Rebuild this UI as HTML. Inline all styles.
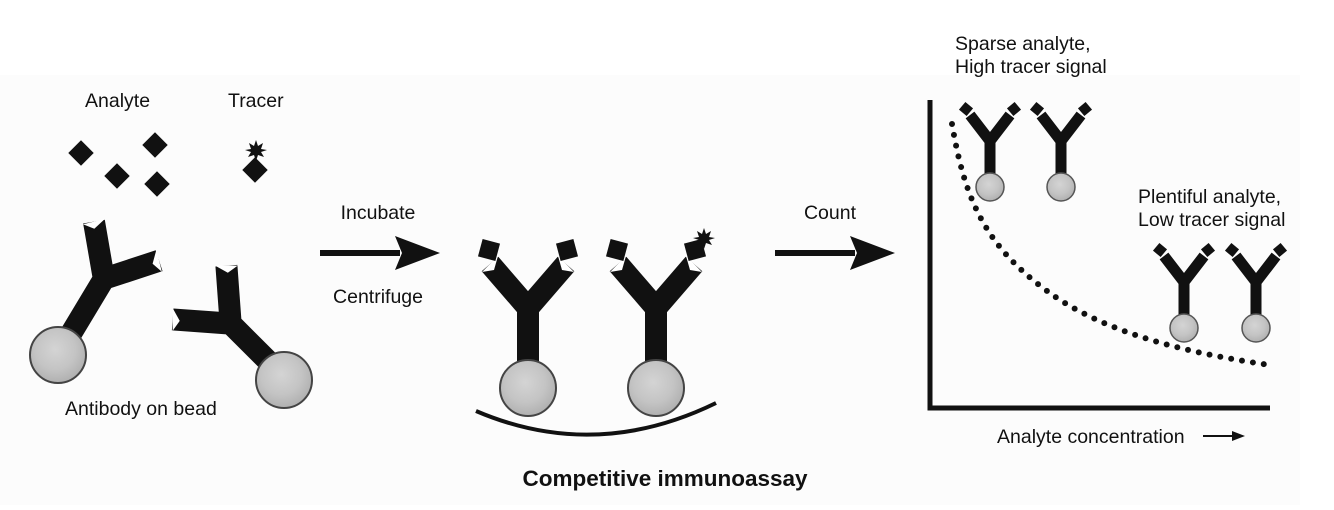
<!DOCTYPE html>
<html><head><meta charset="utf-8"><style>
html,body{margin:0;padding:0;background:#fff}
svg{display:block}
text{font-family:"Liberation Sans",Arial,sans-serif;fill:#111}
</style></head><body>
<svg width="1334" height="510" viewBox="0 0 1334 510" xmlns="http://www.w3.org/2000/svg">
<defs>
<radialGradient id="bg" cx="0.45" cy="0.4" r="0.6">
<stop offset="0" stop-color="#d4d4d4"/><stop offset="0.6" stop-color="#c4c4c4"/><stop offset="1" stop-color="#b0b0b0"/>
</radialGradient>
<g id="Y">
<path d="M0,4 L0,80 M0,8 L-38,-36 M0,8 L38,-36" stroke="#111" stroke-width="22" fill="none"/>
<polygon points="-46,-28 -38,-36 -30,-44 -34,-30" fill="#fff"/>
<polygon points="46,-28 38,-36 30,-44 34,-30" fill="#fff"/>
</g>
<g id="ys">
<path d="M0,2 L0,38 M0,4 L-20,-22 M0,4 L20,-22" stroke="#111" stroke-width="11" fill="none"/>
<rect x="-5" y="-5" width="10" height="10" fill="#111" transform="translate(-24,-28) rotate(40)"/>
<rect x="-5" y="-5" width="10" height="10" fill="#111" transform="translate(24,-28) rotate(-40)"/>
<circle cx="0" cy="50" r="14" fill="url(#bg)" stroke="#555" stroke-width="1.5"/>
</g>
</defs>
<rect x="0" y="75" width="1300" height="430" fill="#fcfcfc"/>

<text x="85" y="107" font-size="19.5">Analyte</text>
<text x="228" y="107" font-size="19.5">Tracer</text>
<g fill="#111">
<rect x="-9" y="-9" width="18" height="18" transform="translate(81,153) rotate(45)"/>
<rect x="-9" y="-9" width="18" height="18" transform="translate(155,145) rotate(45)"/>
<rect x="-9" y="-9" width="18" height="18" transform="translate(117,176) rotate(45)"/>
<rect x="-9" y="-9" width="18" height="18" transform="translate(157,184) rotate(45)"/>
<rect x="-9" y="-9" width="18" height="18" transform="translate(255,170) rotate(45)"/>
<polygon points="256,140 258,146 263,143 261,149 267,150 261,152 264,157 258,155 256,161 254,155 248,157 251,152 245,150 251,149 249,143 254,146"/>
</g>

<g transform="translate(108,272) rotate(31)"><use href="#Y"/></g>
<circle cx="58" cy="355" r="28" fill="url(#bg)" stroke="#444" stroke-width="2"/>
<g transform="translate(225,318) rotate(-45)"><use href="#Y"/></g>
<circle cx="284" cy="380" r="28" fill="url(#bg)" stroke="#444" stroke-width="2"/>
<text x="65" y="415" font-size="19.5">Antibody on bead</text>

<text x="378" y="219" font-size="19.5" text-anchor="middle">Incubate</text>
<text x="378" y="303" font-size="19.5" text-anchor="middle">Centrifuge</text>
<path d="M320,253 H400" stroke="#111" stroke-width="6"/>
<polygon points="395,236 440,253 395,270 402,253" fill="#111"/>

<g transform="translate(528,300)"><use href="#Y"/></g>
<g transform="translate(656,300)"><use href="#Y"/></g>
<g fill="#111">
<rect x="-9" y="-9" width="18" height="18" transform="translate(489,250) rotate(15)"/>
<rect x="-9" y="-9" width="18" height="18" transform="translate(567,250) rotate(-15)"/>
<rect x="-9" y="-9" width="18" height="18" transform="translate(617,250) rotate(15)"/>
<rect x="-9" y="-9" width="18" height="18" transform="translate(695,250) rotate(-15)"/>
<polygon points="704,228 706,234 711,231 709,237 715,238 709,240 712,245 706,243 704,249 702,243 696,245 699,240 693,238 699,237 697,231 702,234"/>
</g>
<circle cx="528" cy="388" r="28" fill="url(#bg)" stroke="#444" stroke-width="2"/>
<circle cx="656" cy="388" r="28" fill="url(#bg)" stroke="#444" stroke-width="2"/>
<path d="M476,411 Q595,462 716,403" stroke="#111" stroke-width="4" fill="none"/>

<text x="830" y="219" font-size="19.5" text-anchor="middle">Count</text>
<path d="M775,253 H855" stroke="#111" stroke-width="6"/>
<polygon points="850,236 895,253 850,270 857,253" fill="#111"/>

<text x="665" y="486" font-size="22.5" font-weight="bold" text-anchor="middle">Competitive immunoassay</text>

<text x="955" y="50" font-size="19.5">Sparse analyte,</text>
<text x="955" y="73" font-size="19.5">High tracer signal</text>
<text x="1138" y="203" font-size="19.5">Plentiful analyte,</text>
<text x="1138" y="226" font-size="19.5">Low tracer signal</text>
<path d="M930,100 V408 H1270" stroke="#111" stroke-width="5" fill="none"/>
<path d="M952,124 C965,200 985,250 1060,300 C1120,338 1200,355 1270,365" stroke="#111" stroke-width="6" fill="none" stroke-linecap="round" stroke-dasharray="0 11"/>
<use href="#ys" transform="translate(990,137)"/>
<use href="#ys" transform="translate(1061,137)"/>
<use href="#ys" transform="translate(1184,278)"/>
<use href="#ys" transform="translate(1256,278)"/>
<text x="997" y="443" font-size="19.5">Analyte concentration</text>
<path d="M1203,436 H1236" stroke="#111" stroke-width="2"/>
<polygon points="1232,431 1245,436 1232,441" fill="#111"/>
</svg>
</body></html>
